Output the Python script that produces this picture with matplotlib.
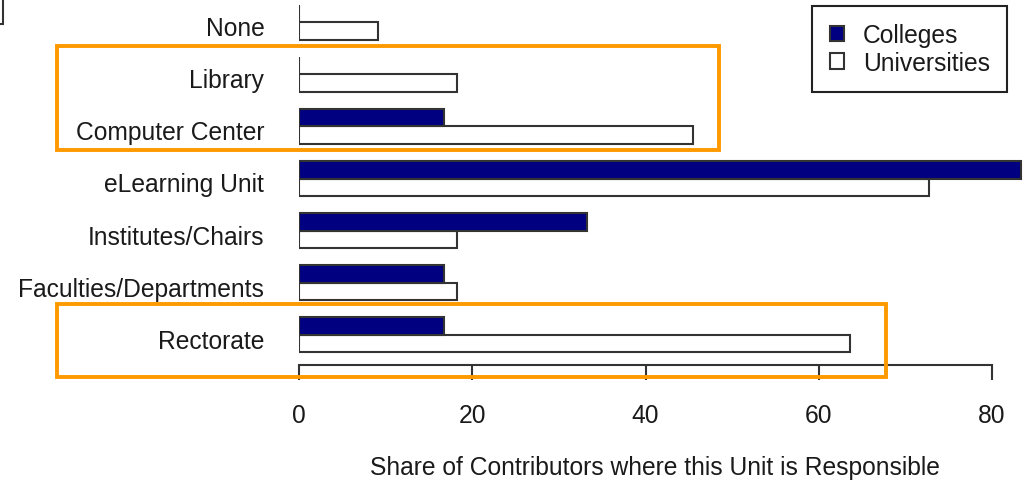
import matplotlib
matplotlib.use("Agg")
import matplotlib.pyplot as plt
from matplotlib.patches import Rectangle
import numpy as np

# categories bottom -> top
categories = ["Rectorate", "Faculties/Departments", "Institutes/Chairs",
              "eLearning Unit", "Computer Center", "Library", "None"]
colleges = [16.7, 16.7, 33.3, 83.3, 16.7, 0.0, 0.0]
universities = [63.6, 18.2, 18.2, 72.7, 45.5, 18.2, 9.1]
xticks = [0, 20, 40, 60, 80]
highlight_groups = [("Computer Center", "Library"), ("Rectorate", "Rectorate")]

plt.rcParams['font.family'] = ['Liberation Sans', 'DejaVu Sans']
FS = 17.7
TXT = '#1a1a1a'

W, H = 1026, 485
fig = plt.figure(figsize=(W / 100, H / 100), dpi=100)

# axes: left edge at x=0 of data, full height
x0_px = 299
px_per_x = 8.6625
px_per_y = 17.35
y0_px = 353  # pixel row of data y=0
ax = fig.add_axes([x0_px / W, 0, 1 - x0_px / W, 1])
ax.set_xlim(0, (W - x0_px) / px_per_x)
ax.set_ylim((y0_px - H) / px_per_y, y0_px / px_per_y)

grp = np.arange(len(categories)) * 3
edge = '#333333'
ax.barh(grp, universities, height=1, align='edge', color='white',
        edgecolor=edge, linewidth=1.5, label='Universities', zorder=2)
ax.barh(grp + 1, colleges, height=1, align='edge', color='#000080',
        edgecolor=edge, linewidth=1.5, label='Colleges', zorder=2)

# y labels
ax.set_yticks(grp + 1 - 0.2)
ax.set_yticklabels(categories, fontsize=FS, color=TXT)
ax.tick_params(axis='y', length=0, pad=25)

# x axis as R-style line with ticks
for s in ['top', 'right', 'left']:
    ax.spines[s].set_visible(False)
ax.spines['bottom'].set_position(('data', -0.75))
ax.spines['bottom'].set_bounds(0, 80)
ax.spines['bottom'].set_color(edge)
ax.spines['bottom'].set_linewidth(1.5)
ax.set_xticks(xticks)
ax.set_xticklabels([str(t) for t in xticks], fontsize=FS, color=TXT)
ax.tick_params(axis='x', direction='out', length=10.5, width=1.5, color=edge, pad=17)

ax.set_xlabel("Share of Contributors where this Unit is Responsible",
              fontsize=FS, color=TXT)
ax.xaxis.label.set_va('center')
ax.xaxis.set_label_coords((655 - x0_px) / (W - x0_px), 17 / H)

# legend
handles, labels = ax.get_legend_handles_labels()
leg = fig.legend(handles[::-1], labels[::-1], loc='upper right',
                 bbox_to_anchor=(1007 / W, 1 - 7 / H), bbox_transform=fig.transFigure,
                 fontsize=FS, frameon=True, fancybox=False, framealpha=1,
                 edgecolor='#222222', borderaxespad=0, handlelength=0.6,
                 handleheight=0.6, handletextpad=0.75, labelspacing=0.15,
                 borderpad=0.7)
leg.get_frame().set_linewidth(1.5)
for t in leg.get_texts():
    t.set_color(TXT)

# orange highlight boxes
left_x = (57 - x0_px) / px_per_x
right_x = [(719 - x0_px) / px_per_x, (886 - x0_px) / px_per_x]
for (lo, hi), rx in zip(highlight_groups, right_x):
    ylo = grp[categories.index(lo)] - (0.36 if lo != "Rectorate" else 1.44)
    yhi = grp[categories.index(hi)] + 2 + (0.64 if hi != "Rectorate" else 0.77)
    ax.add_patch(Rectangle((left_x, ylo), rx - left_x, yhi - ylo, fill=False,
                           edgecolor='#FF9900', linewidth=2.8, clip_on=False, zorder=5))

# cropped box corner at top-left
fig.patches.append(Rectangle((-0.05, 1 - 25 / H), 0.05 + 3 / W, 0.2, fill=False,
                             edgecolor='#333333', linewidth=1.5,
                             transform=fig.transFigure, figure=fig))

fig.savefig('out.png', dpi=100)
